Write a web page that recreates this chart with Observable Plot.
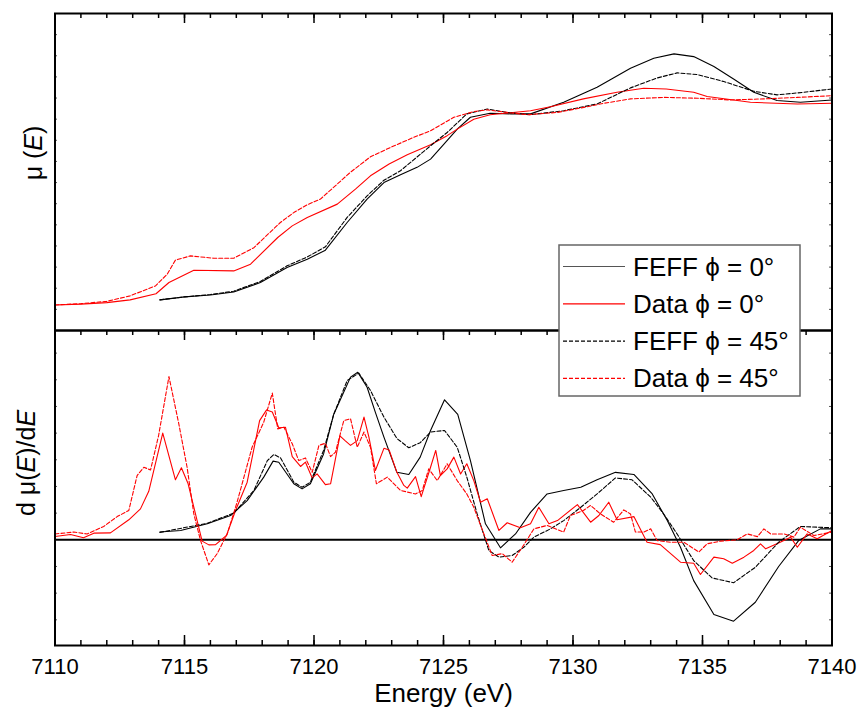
<!DOCTYPE html>
<html>
<head>
<meta charset="utf-8">
<script src="https://cdn.jsdelivr.net/npm/d3@7"></script>
<script src="https://cdn.jsdelivr.net/npm/@observablehq/plot@0.6"></script>
<style>
  html, body { margin: 0; padding: 0; background: #fff; }
  #chart { position: relative; width: 858px; height: 707px; font-family: "Liberation Sans", Arial, sans-serif; }
  #chart svg { position: absolute; left: 0; overflow: visible; }
</style>
</head>
<body>
<div id="chart"></div>
<script>
// ---------- x axis ----------
const xDomain = [7110, 7140];
const xMajorTicks = [7110, 7115, 7120, 7125, 7130, 7135, 7140];
const xMinorTicks = d3.range(7110, 7141, 1);

// ---------- top panel: mu(E) ----------
const muFeff0E = [7114.05, 7115.0, 7116.0, 7116.9, 7117.93, 7118.96, 7119.74, 7120.44, 7121.28, 7122.05, 7122.7, 7123.34, 7123.98, 7124.5, 7125.0, 7125.53, 7126.04, 7126.8, 7127.6, 7128.36, 7129.64, 7130.93, 7132.22, 7133.12, 7133.9, 7134.66, 7135.44, 7136.2, 7136.98, 7137.88, 7138.78, 7140];
const muFeff0  = [0.145, 0.159, 0.168, 0.182, 0.227, 0.298, 0.337, 0.38, 0.511, 0.622, 0.7, 0.737, 0.772, 0.811, 0.879, 0.953, 1.009, 1.028, 1.025, 1.025, 1.08, 1.151, 1.241, 1.288, 1.309, 1.296, 1.249, 1.19, 1.127, 1.088, 1.08, 1.091];

const muFeff45E = [7114.05, 7115.0, 7116.0, 7116.9, 7117.93, 7118.96, 7119.74, 7120.44, 7121.28, 7122.05, 7122.7, 7123.34, 7124.5, 7125.14, 7125.9, 7126.69, 7127.46, 7128.36, 7129.64, 7130.93, 7132.22, 7133.25, 7134.02, 7134.8, 7135.82, 7136.98, 7137.88, 7138.9, 7140];
const muFeff45  = [0.145, 0.159, 0.17, 0.186, 0.232, 0.306, 0.348, 0.396, 0.535, 0.637, 0.711, 0.756, 0.874, 0.937, 1.025, 1.048, 1.032, 1.021, 1.04, 1.072, 1.148, 1.195, 1.219, 1.211, 1.178, 1.132, 1.115, 1.127, 1.143];

const muData0E = [7110, 7111.0, 7112.0, 7112.9, 7113.9, 7114.4, 7115.36, 7116.9, 7117.55, 7118.6, 7119.16, 7119.74, 7120.9, 7121.6, 7122.18, 7122.9, 7123.6, 7124.5, 7125.14, 7125.53, 7126.17, 7126.8, 7128.36, 7129.13, 7130.4, 7131.7, 7132.73, 7133.6, 7134.66, 7135.18, 7136.85, 7138.66, 7140];
const muData0  = [0.121, 0.125, 0.132, 0.145, 0.174, 0.227, 0.285, 0.282, 0.314, 0.44, 0.495, 0.535, 0.598, 0.669, 0.732, 0.788, 0.832, 0.879, 0.922, 0.953, 1.0, 1.021, 1.04, 1.059, 1.096, 1.127, 1.146, 1.143, 1.127, 1.107, 1.08, 1.072, 1.075];

const muData45E = [7110, 7111.0, 7112.0, 7112.9, 7113.88, 7114.33, 7114.65, 7115.23, 7116.13, 7116.9, 7117.68, 7118.7, 7119.22, 7119.74, 7120.25, 7120.9, 7121.4, 7122.18, 7122.95, 7123.85, 7124.5, 7125.4, 7126.17, 7126.69, 7127.46, 7128.23, 7129.4, 7130.55, 7131.19, 7132.22, 7133.5, 7134.8, 7136.08, 7137.37, 7138.66, 7140];
const muData45  = [0.121, 0.127, 0.138, 0.164, 0.211, 0.266, 0.333, 0.353, 0.342, 0.342, 0.392, 0.511, 0.558, 0.595, 0.622, 0.693, 0.748, 0.822, 0.866, 0.914, 0.945, 1.009, 1.036, 1.044, 1.032, 1.021, 1.032, 1.059, 1.075, 1.096, 1.103, 1.099, 1.091, 1.096, 1.103, 1.111];

const muDomain = [0, 1.5];
const muMinorTicks = d3.range(1, 15).map(i => i / 10);

// ---------- bottom panel: d mu(E)/dE ----------
const dFeff0E = [7114.05, 7114.85, 7115.88, 7116.78, 7117.42, 7118.06, 7118.42, 7118.64, 7119.22, 7119.54, 7119.86, 7120.37, 7120.76, 7121.41, 7121.69, 7122.05, 7122.37, 7122.7, 7123.2, 7123.66, 7124.1, 7124.5, 7125.04, 7125.55, 7126.04, 7126.62, 7127.2, 7127.78, 7128.36, 7129.0, 7129.64, 7130.3, 7130.93, 7131.64, 7132.35, 7133.06, 7133.64, 7134.15, 7134.66, 7135.44, 7136.2, 7137.04, 7137.94, 7138.71, 7139.55, 7140];
const dFeff0  = [0.29, 0.35, 0.6, 0.91, 1.47, 2.35, 2.95, 2.91, 2.1, 1.91, 2.1, 3.22, 4.7, 6.1, 6.28, 5.72, 4.78, 3.85, 2.53, 2.45, 3.1, 4.1, 5.25, 4.7, 2.97, 0.6, -0.3, 0.22, 1.03, 1.72, 1.85, 1.97, 2.25, 2.53, 2.45, 1.72, 0.72, -0.28, -1.53, -2.8, -3.05, -2.34, -1.0, -0.03, 0.41, 0.41];

const dFeff45E = [7114.05, 7115.88, 7116.9, 7117.68, 7118.2, 7118.45, 7118.71, 7119.22, 7119.54, 7119.86, 7120.37, 7120.76, 7121.28, 7121.73, 7122.18, 7122.7, 7123.2, 7123.66, 7124.1, 7124.5, 7125.04, 7125.53, 7125.9, 7126.3, 7126.75, 7127.14, 7127.65, 7128.1, 7128.49, 7129.13, 7129.64, 7130.3, 7130.93, 7131.64, 7132.28, 7133.0, 7133.5, 7134.02, 7134.66, 7135.37, 7136.2, 7137.04, 7137.94, 7138.78, 7140];
const dFeff45  = [0.28, 0.62, 1.0, 1.85, 2.97, 3.2, 3.07, 2.16, 1.97, 2.16, 3.35, 4.7, 5.97, 6.25, 5.6, 4.6, 3.8, 3.45, 3.64, 4.04, 4.1, 3.47, 2.35, 0.97, -0.4, -0.65, -0.59, -0.28, 0.1, 0.41, 0.72, 1.22, 1.72, 2.32, 2.25, 1.6, 0.97, 0.22, -0.78, -1.43, -1.61, -1.03, -0.09, 0.5, 0.45];

const dData0E = [7110, 7110.6, 7111.1, 7111.5, 7112.14, 7112.85, 7113.3, 7113.62, 7114.16, 7114.65, 7114.88, 7115.14, 7115.68, 7115.94, 7116.2, 7116.62, 7116.97, 7117.42, 7117.9, 7118.17, 7118.39, 7118.64, 7118.9, 7119.16, 7119.48, 7119.67, 7119.93, 7120.12, 7120.44, 7120.64, 7121.0, 7121.2, 7121.41, 7121.67, 7121.93, 7122.12, 7122.37, 7122.7, 7122.9, 7123.2, 7123.47, 7123.6, 7123.92, 7124.14, 7124.5, 7124.7, 7124.88, 7125.14, 7125.4, 7125.66, 7125.9, 7126.17, 7126.43, 7126.69, 7127.14, 7127.46, 7127.97, 7128.36, 7128.68, 7129.07, 7129.4, 7130.17, 7130.68, 7131.0, 7131.38, 7131.7, 7132.35, 7132.86, 7133.37, 7134.15, 7134.66, 7134.92, 7135.44, 7135.82, 7136.15, 7136.6, 7136.98, 7137.24, 7137.44, 7138.0, 7138.4, 7138.66, 7139.04, 7139.43, 7140];
const dData0  = [0.124, 0.2, 0.075, 0.25, 0.26, 0.75, 1.16, 1.82, 4.0, 2.25, 2.7, 2.1, -0.05, -0.19, -0.18, 0.16, 1.1, 2.16, 4.47, 4.87, 4.79, 4.2, 4.22, 3.12, 2.75, 2.91, 2.32, 2.47, 2.07, 2.1, 3.9, 3.72, 3.54, 3.72, 4.6, 3.85, 2.6, 3.43, 3.37, 2.53, 2.04, 1.94, 2.37, 1.62, 2.72, 3.35, 2.41, 2.66, 3.1, 2.47, 2.85, 2.22, 1.41, 1.54, 0.35, 0.64, 0.45, 0.6, 1.22, 0.6, 0.72, 1.32, 0.66, 0.91, 1.41, 0.75, 0.87, -0.09, -0.18, -0.84, -0.88, -1.3, -0.65, -0.71, -0.88, -0.65, -0.4, -0.15, -0.34, -0.09, 0.1, -0.28, 0.22, 0.04, 0.35];

const dData45E = [7110, 7110.73, 7111.24, 7111.88, 7112.4, 7112.85, 7113.17, 7113.43, 7113.69, 7114.0, 7114.4, 7114.78, 7115.1, 7115.36, 7115.62, 7115.94, 7116.26, 7116.65, 7117.03, 7117.61, 7118.06, 7118.39, 7118.6, 7118.84, 7119.16, 7119.41, 7119.67, 7119.93, 7120.19, 7120.44, 7120.64, 7120.83, 7121.15, 7121.41, 7121.67, 7121.93, 7122.18, 7122.41, 7122.83, 7123.34, 7123.92, 7124.18, 7124.43, 7124.76, 7125.14, 7125.53, 7125.9, 7126.17, 7126.56, 7126.88, 7127.27, 7127.65, 7128.04, 7128.49, 7129.0, 7129.64, 7129.9, 7130.4, 7130.68, 7131.06, 7131.57, 7131.96, 7132.22, 7132.41, 7132.73, 7133.0, 7133.25, 7133.76, 7134.28, 7134.86, 7135.18, 7135.7, 7136.34, 7136.73, 7137.12, 7137.37, 7137.63, 7138.15, 7138.53, 7138.78, 7139.3, 7140];
const dData45  = [0.22, 0.29, 0.22, 0.5, 0.87, 1.1, 2.41, 2.72, 2.62, 3.91, 6.12, 4.35, 2.72, 0.97, -0.03, -0.94, -0.52, 0.22, 1.41, 3.47, 4.41, 5.5, 4.16, 4.22, 3.6, 2.97, 3.07, 2.53, 3.54, 3.62, 3.12, 3.29, 4.47, 4.54, 3.47, 4.04, 3.47, 2.1, 2.35, 1.85, 1.72, 1.85, 2.66, 2.22, 2.85, 2.22, 1.72, 1.22, 0.22, -0.59, -0.52, -0.84, -0.28, 0.41, 0.54, 0.29, 0.91, 1.1, 1.29, 0.97, 0.66, 1.12, 0.97, 0.29, 0.29, 0.41, -0.03, -0.09, -0.09, -0.46, -0.15, -0.05, 0, 0.22, 0.12, 0.41, 0.22, 0.22, 0.1, 0.47, 0.16, 0.29];

const dDomain = [-3.963, 7.848];
const dMinorTicks = [-3, -2, -1, 1, 2, 3, 4, 5, 6, 7];

// ---------- legend ----------
const seriesNames  = ["FEFF \u03d5 = 0\u00b0", "Data \u03d5 = 0\u00b0", "FEFF \u03d5 = 45\u00b0", "Data \u03d5 = 45\u00b0"];
const seriesColors = ["#000000", "#ff0000", "#000000", "#ff0000"];
const seriesDash   = [null, null, "4,2", "4,2"];

// ---------- layout / style ----------
const FONT = "'Liberation Sans', Arial, sans-serif";
const W = 858, ML = 54.5, MR = 26.5, FRAME_W = W - ML - MR;
const TOP_H = 330, TOP_MT = 13, TOP_FRAME_H = TOP_H - TOP_MT;
const BOT_H = 377, BOT_MB = 62, BOT_FRAME_H = BOT_H - BOT_MB;
const MAJOR = 10, MINOR = 5, YTICK = 2.5;

const rows = (E, V) => E.map((e, i) => ({E: e, v: V[i]}));
const lineOpts = (i) => ({x: "E", y: "v", stroke: seriesColors[i], strokeWidth: 1.1,
  strokeDasharray: seriesDash[i] ?? undefined, curve: "linear"});

// inward ticks on the frame edges, expressed in data units of each panel
const pxToY = (domain, frameH) => (domain[1] - domain[0]) / frameH;
const pxToX = (xDomain[1] - xDomain[0]) / FRAME_W;
const edgeTicksX = (domain, frameH, edge) => {
  const k = pxToY(domain, frameH);
  const y0 = edge === "top" ? domain[1] : domain[0];
  const s = edge === "top" ? -1 : 1;
  return [
    Plot.ruleX(xMinorTicks, {x: d => d, y1: y0, y2: y0 + s * MINOR * k, stroke: "#000", strokeWidth: 1.5}),
    Plot.ruleX(xMajorTicks, {x: d => d, y1: y0, y2: y0 + s * MAJOR * k, stroke: "#000", strokeWidth: 1.5})
  ];
};
const sideTicksY = (ticks) => [
  Plot.ruleY(ticks, {y: d => d, x1: xDomain[0], x2: xDomain[0] + YTICK * pxToX, stroke: "#555", strokeWidth: 1}),
  Plot.ruleY(ticks, {y: d => d, x1: xDomain[1], x2: xDomain[1] - YTICK * pxToX, stroke: "#555", strokeWidth: 1})
];

const chartEl = document.getElementById("chart");

// Top panel
const topPlot = Plot.plot({
  width: W, height: TOP_H,
  marginTop: TOP_MT, marginBottom: 0, marginLeft: ML, marginRight: MR,
  style: {fontFamily: FONT, background: "transparent"},
  x: {domain: xDomain, label: null, axis: null},
  y: {domain: muDomain, label: null, axis: null},
  marks: [
    ...edgeTicksX(muDomain, TOP_FRAME_H, "top"),
    ...sideTicksY(muMinorTicks),
    Plot.line(rows(muFeff0E, muFeff0), lineOpts(0)),
    Plot.line(rows(muData0E, muData0), lineOpts(1)),
    Plot.line(rows(muFeff45E, muFeff45), lineOpts(2)),
    Plot.line(rows(muData45E, muData45), lineOpts(3)),
    Plot.frame({stroke: "#000", strokeWidth: 2})
  ]
});
topPlot.style.top = "0px";
chartEl.appendChild(topPlot);
{
  const t = d3.select(topPlot).append("text")
    .attr("transform", "translate(42,153) rotate(-90)")
    .attr("text-anchor", "middle")
    .style("font-family", FONT).style("font-size", "25px").attr("fill", "#000");
  t.append("tspan").text("\u03bc (");
  t.append("tspan").style("font-style", "italic").text("E");
  t.append("tspan").text(")");
}

// Bottom panel
const bottomPlot = Plot.plot({
  width: W, height: BOT_H,
  marginTop: 0, marginBottom: BOT_MB, marginLeft: ML, marginRight: MR,
  style: {fontFamily: FONT, background: "transparent"},
  x: {domain: xDomain, label: null},
  y: {domain: dDomain, label: null, axis: null},
  marks: [
    ...edgeTicksX(dDomain, BOT_FRAME_H, "top"),
    ...edgeTicksX(dDomain, BOT_FRAME_H, "bottom"),
    ...sideTicksY(dMinorTicks),
    Plot.axisX({anchor: "bottom", ticks: xMajorTicks, tickSize: 0, tickPadding: 13, tickFormat: d => String(d),
      fontSize: 22, fill: "#000", label: null}),
    Plot.ruleY([0], {stroke: "#000", strokeWidth: 2}),
    Plot.line(rows(dFeff0E, dFeff0), lineOpts(0)),
    Plot.line(rows(dData0E, dData0), lineOpts(1)),
    Plot.line(rows(dFeff45E, dFeff45), lineOpts(2)),
    Plot.line(rows(dData45E, dData45), lineOpts(3)),
    Plot.text(["Energy (eV)"], {frameAnchor: "bottom", dy: 56, lineAnchor: "bottom", fontSize: 26, fill: "#000"}),
    Plot.frame({stroke: "#000", strokeWidth: 2})
  ]
});
bottomPlot.style.top = "330px";
chartEl.appendChild(bottomPlot);
{
  const t = d3.select(bottomPlot).append("text")
    .attr("transform", "translate(35,133) rotate(-90)")
    .attr("text-anchor", "middle")
    .style("font-family", FONT).style("font-size", "25px").attr("fill", "#000");
  t.append("tspan").text("d \u03bc(");
  t.append("tspan").style("font-style", "italic").text("E");
  t.append("tspan").text(")/d");
  t.append("tspan").style("font-style", "italic").text("E");
}

// Legend (overlays both panels)
const lg = d3.select(chartEl).append("svg")
  .attr("width", 244).attr("height", 154)
  .style("left", "558px").style("top", "244px");
lg.append("rect").attr("x", 1).attr("y", 1).attr("width", 241).attr("height", 151)
  .attr("fill", "#fff").attr("stroke", "#666").attr("stroke-width", 1.5);
seriesNames.forEach((name, i) => {
  const cy = 22.5 + i * 37.3;
  lg.append("line").attr("x1", 5).attr("x2", 67).attr("y1", cy).attr("y2", cy)
    .attr("stroke", i === 0 ? "#555" : seriesColors[i]).attr("stroke-width", 1.2)
    .attr("stroke-dasharray", seriesDash[i]);
  lg.append("text").attr("x", 75).attr("y", cy + 9)
    .style("font-family", FONT).style("font-size", "26px").attr("fill", "#000").text(name);
});
</script>
</body>
</html>
